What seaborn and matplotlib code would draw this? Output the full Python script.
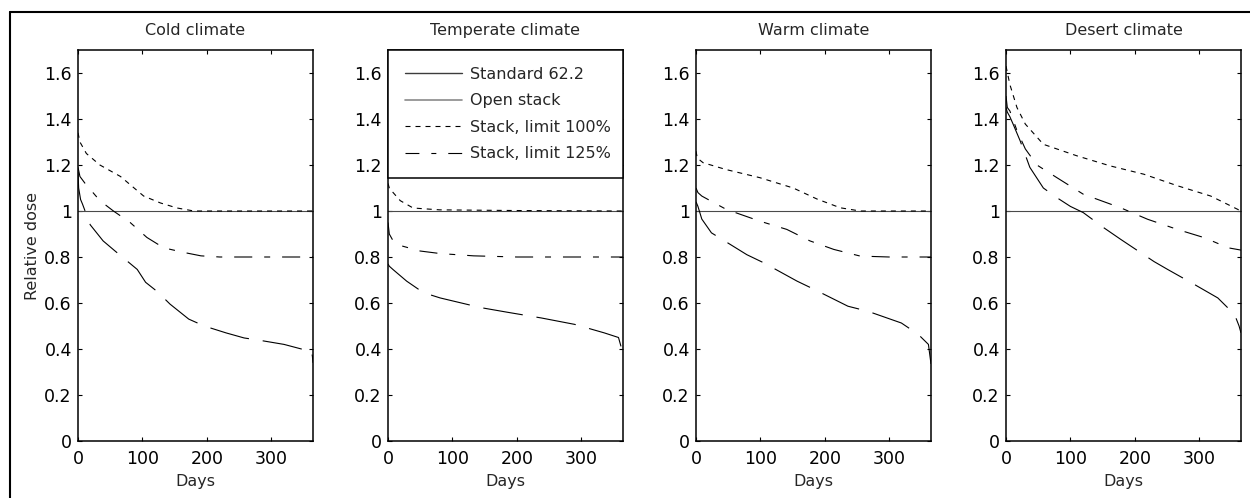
import matplotlib
matplotlib.use("Agg")
import matplotlib.pyplot as plt
from matplotlib.lines import Line2D
import pandas as pd
import seaborn as sns

# ---------------- data ----------------
climates = ["Cold climate", "Temperate climate", "Warm climate", "Desert climate"]
series_names = ["Standard 62.2", "Open stack", "Stack, limit 100%", "Stack, limit 125%"]

standard_days = [0, 365]
standard_vals = [1.0, 1.0]

cold_open_days = [0, 1, 4, 7, 19, 39, 58, 92, 105, 123, 143, 172, 196, 230, 258, 284, 320, 347, 362, 364, 365]
cold_open_vals = [1.17, 1.10, 1.05, 1.03, 0.94, 0.87, 0.825, 0.746, 0.69, 0.65, 0.595, 0.53, 0.50, 0.47, 0.448, 0.437, 0.42, 0.40, 0.395, 0.37, 0.34]
cold_100_days = [0, 3, 13, 34, 66, 102, 128, 154, 180, 365]
cold_100_vals = [1.34, 1.30, 1.25, 1.20, 1.15, 1.065, 1.035, 1.013, 1.0, 1.0]
cold_125_days = [0, 3, 11, 34, 55, 81, 107, 133, 164, 191, 220, 365]
cold_125_vals = [1.19, 1.15, 1.12, 1.045, 1.0, 0.95, 0.885, 0.84, 0.82, 0.805, 0.80, 0.80]

temp_open_days = [0, 2, 8, 29, 55, 81, 144, 185, 238, 290, 336, 358, 362, 365]
temp_open_vals = [0.77, 0.76, 0.745, 0.695, 0.645, 0.622, 0.58, 0.56, 0.535, 0.507, 0.47, 0.45, 0.41, 0.38]
temp_100_days = [0, 2, 8, 19, 39, 80, 200, 365]
temp_100_vals = [1.12, 1.10, 1.08, 1.045, 1.013, 1.005, 1.002, 1.0]
temp_125_days = [0, 2, 8, 19, 50, 81, 133, 200, 365]
temp_125_vals = [0.95, 0.90, 0.87, 0.85, 0.826, 0.815, 0.805, 0.80, 0.80]

warm_open_days = [0, 3, 9, 24, 53, 79, 105, 157, 183, 236, 267, 319, 345, 361, 365]
warm_open_vals = [1.04, 1.02, 0.965, 0.905, 0.855, 0.81, 0.775, 0.695, 0.66, 0.586, 0.564, 0.513, 0.464, 0.42, 0.335]
warm_100_days = [0, 2, 11, 47, 99, 151, 188, 224, 255, 365]
warm_100_vals = [1.26, 1.23, 1.21, 1.18, 1.145, 1.10, 1.052, 1.014, 1.0, 1.0]
warm_125_days = [0, 3, 9, 22, 47, 99, 141, 177, 214, 255, 300, 365]
warm_125_vals = [1.10, 1.08, 1.065, 1.045, 1.007, 0.956, 0.92, 0.87, 0.833, 0.804, 0.80, 0.80]

desert_open_days = [0, 2, 6, 11, 22, 37, 58, 79, 100, 120, 152, 178, 230, 251, 293, 329, 355, 362, 365]
desert_open_vals = [1.45, 1.43, 1.41, 1.378, 1.305, 1.19, 1.10, 1.058, 1.02, 0.993, 0.927, 0.877, 0.78, 0.746, 0.68, 0.622, 0.55, 0.50, 0.47]
desert_100_days = [0, 6, 17, 30, 58, 110, 162, 214, 266, 318, 360, 365]
desert_100_vals = [1.63, 1.55, 1.45, 1.378, 1.29, 1.24, 1.196, 1.16, 1.11, 1.065, 1.007, 1.0]
desert_125_days = [0, 2, 6, 17, 30, 48, 79, 120, 178, 220, 266, 308, 345, 365]
desert_125_vals = [1.50, 1.45, 1.435, 1.35, 1.27, 1.20, 1.145, 1.073, 1.014, 0.964, 0.92, 0.884, 0.84, 0.83]

xticks = [0, 100, 200, 300]
xtick_labels = ["0", "100", "200", "300"]
yticks = [0, 0.2, 0.4, 0.6, 0.8, 1.0, 1.2, 1.4, 1.6]
ytick_labels = ["0", "0.2", "0.4", "0.6", "0.8", "1", "1.2", "1.4", "1.6"]

panel_data = {
    "Cold climate": [(cold_open_days, cold_open_vals), (cold_100_days, cold_100_vals), (cold_125_days, cold_125_vals)],
    "Temperate climate": [(temp_open_days, temp_open_vals), (temp_100_days, temp_100_vals), (temp_125_days, temp_125_vals)],
    "Warm climate": [(warm_open_days, warm_open_vals), (warm_100_days, warm_100_vals), (warm_125_days, warm_125_vals)],
    "Desert climate": [(desert_open_days, desert_open_vals), (desert_100_days, desert_100_vals), (desert_125_days, desert_125_vals)],
}

rows = []
for clim in climates:
    for d, v in zip(standard_days, standard_vals):
        rows.append((clim, series_names[0], d, v))
    for name, (days, vals) in zip(series_names[1:], panel_data[clim]):
        for d, v in zip(days, vals):
            rows.append((clim, name, d, v))
df = pd.DataFrame(rows, columns=["climate", "series", "day", "value"])

# ---------------- style ----------------
sns.set_style("ticks", rc={
    "xtick.direction": "in", "ytick.direction": "in",
    "xtick.top": True, "ytick.right": True,
    "axes.edgecolor": "black", "axes.linewidth": 1.1,
})
plt.rcParams["font.family"] = ["DejaVu Sans"]
plt.rcParams["font.size"] = 11.5
plt.rcParams["lines.scale_dashes"] = False
plt.rcParams["xtick.major.size"] = 3
plt.rcParams["ytick.major.size"] = 3
plt.rcParams["xtick.major.pad"] = 6.5
plt.rcParams["ytick.major.pad"] = 4.5
plt.rcParams["xtick.labelsize"] = 12.5
plt.rcParams["ytick.labelsize"] = 12.5
plt.rcParams["xtick.color"] = "black"
plt.rcParams["ytick.color"] = "black"

palette = {series_names[0]: "#4a4a4a", series_names[1]: "black",
           series_names[2]: "black", series_names[3]: "black"}
dash_map = {series_names[0]: "", series_names[1]: (28.8, 10.0),
            series_names[2]: (3.6, 3.6), series_names[3]: (13.0, 8.6, 4.3, 8.6)}

W, H = 1250, 498
fig = plt.figure(figsize=(W / 100, H / 100), dpi=100)
lefts = [78, 388, 696, 1006]
ax_w, ax_bottom, ax_h = 235, 57, 391

axes = []
for i, clim in enumerate(climates):
    ax = fig.add_axes([lefts[i] / W, ax_bottom / H, ax_w / W, ax_h / H])
    sub = df[df["climate"] == clim]
    sns.lineplot(data=sub, x="day", y="value", hue="series", style="series",
                 hue_order=series_names, style_order=series_names,
                 palette=palette, dashes=dash_map, linewidth=0.8,
                 estimator=None, errorbar=None, sort=True, legend=False, ax=ax)
    ax.set_xlim(0, 365)
    ax.set_ylim(0, 1.7)
    ax.set_xticks(xticks)
    ax.set_xticklabels(xtick_labels)
    ax.set_yticks(yticks)
    ax.set_yticklabels(ytick_labels)
    ax.set_title(clim, fontsize=11.5, pad=10.8)
    ax.set_xlabel("Days", fontsize=11.5, labelpad=4.5)
    ax.set_ylabel("Relative dose" if i == 0 else "", fontsize=11.5, labelpad=3)
    for s in ax.spines.values():
        s.set_visible(True)
        s.set_linewidth(1.1)
        s.set_color("black")
    axes.append(ax)

# legend in the temperate panel
handles = [
    Line2D([], [], color="#3c3c3c", lw=1.0),
    Line2D([], [], color="#8a8a8a", lw=1.2),
    Line2D([], [], color="black", lw=0.8, dashes=(3.6, 3.6)),
    Line2D([], [], color="black", lw=0.8, dashes=(10.0, 8.6, 3.6, 8.6)),
]
leg = axes[1].legend(handles, series_names, loc="upper left", bbox_to_anchor=(0, 0, 1, 1),
                     mode="expand", borderaxespad=0, frameon=True, fancybox=False,
                     edgecolor="black", framealpha=1, handlelength=3.6, handletextpad=0.5,
                     labelspacing=0.72, borderpad=1.05, fontsize=11.5)
leg.get_frame().set_linewidth(1.1)

# outer figure border (left and top edges)
fig.add_artist(Line2D([10 / W, 10 / W], [0, 1 - 12 / H], transform=fig.transFigure, color="black", lw=1.5))
fig.add_artist(Line2D([10 / W, 1], [1 - 12 / H, 1 - 12 / H], transform=fig.transFigure, color="black", lw=1.5))

fig.savefig("out.png", dpi=100)
